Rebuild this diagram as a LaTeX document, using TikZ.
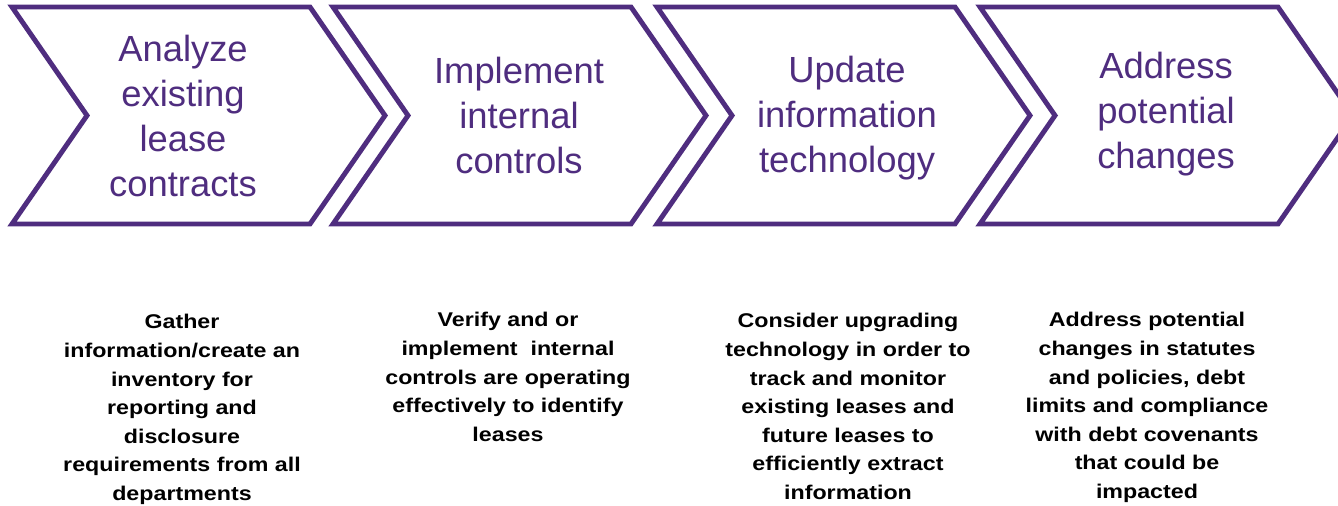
\documentclass[tikz,border=0pt]{standalone}
\usepackage{fontspec}
\setmainfont{Liberation Sans}
\newfontfamily\notefont[FakeStretch=1.17]{Liberation Sans}
\definecolor{leasepurple}{RGB}{79,45,127}
\tikzset{>=stealth}
\tikzset{
  chevron/.style={draw=leasepurple, fill=white, line width=2.8pt, line join=miter},
  steptext/.style={text=leasepurple, align=center, anchor=north, inner sep=0pt,
    font=\fontsize{20.7}{25.5}\selectfont},
  notetext/.style={text=black, align=center, anchor=north, inner sep=0pt,
    font=\notefont\bfseries\fontsize{11.3}{16.3}\selectfont}
}

\begin{document}
\begin{tikzpicture}[x=0.02cm, y=-0.02cm]
\useasboundingbox (0,0) rectangle (1338,505);
\foreach \x in {12,333,657,980}
  \draw[chevron] (\x,7) -- ++(298,0) -- ++(75,108.5) -- ++(-75,108.5) -- ++(-298,0) -- ++(75,-108.5) -- cycle;
\node[steptext] (s1) at (183,35) {Analyze\\existing\\lease\\contracts};
\node[steptext] (s2) at (519,57) {Implement\\internal\\controls};
\node[steptext] (s3) at (847,56) {Update\\information\\technology};
\node[steptext] (s4) at (1166,52) {Address\\potential\\changes};
\node[notetext] (d1) at (182,314) {Gather\\information/create an\\inventory for\\reporting and\\disclosure\\requirements from all\\departments};
\node[notetext] (d2) at (508,312) {Verify and or\\implement\ \ internal\\controls are operating\\effectively to identify\\leases};
\node[notetext] (d3) at (848,313) {Consider upgrading\\technology in order to\\track and monitor\\existing leases and\\future leases to\\efficiently extract\\information};
\node[notetext] (d4) at (1147,312) {Address potential\\changes in statutes\\and policies, debt\\limits and compliance\\with debt covenants\\that could be\\impacted};
\end{tikzpicture}
\end{document}
